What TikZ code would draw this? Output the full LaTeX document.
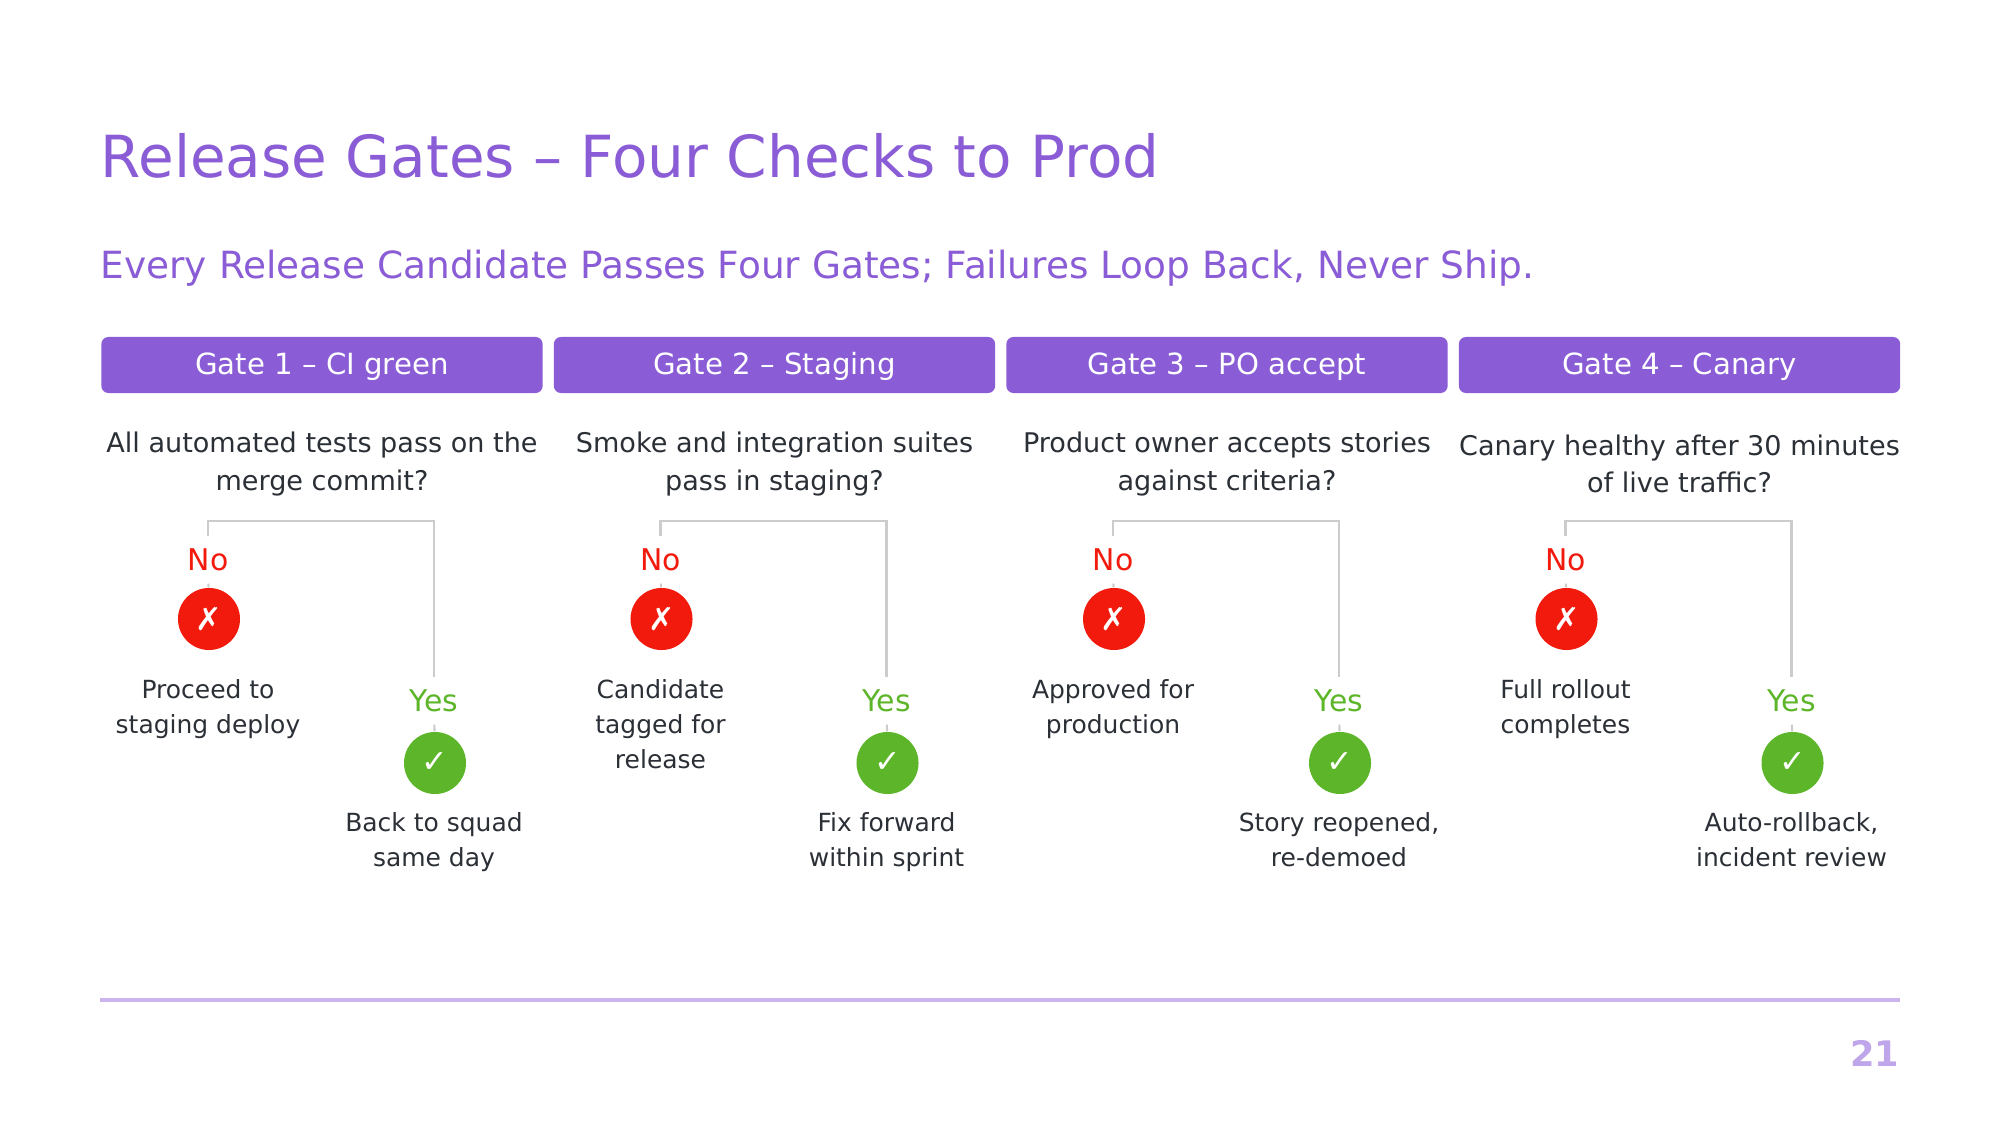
\documentclass[tikz,border=0pt]{standalone}
\usepackage{fontspec}
\setmainfont{DejaVu Sans}
\usepackage{tikz}
\usetikzlibrary{positioning}
\definecolor{gatepurple}{HTML}{8A5CD6}
\definecolor{titlepurple}{HTML}{8A5CD6}
\definecolor{nored}{HTML}{F21A0D}
\definecolor{yesgreen}{HTML}{5DB52A}
\definecolor{inkgray}{HTML}{2B2F36}
\begin{document}
\begin{tikzpicture}[x=0.01cm,y=-0.01cm,
    gate/.style={fill=gatepurple,text=white,minimum width=4.41cm,minimum height=0.56cm,rounded corners=2pt,inner sep=0pt,text depth=0.9pt,font=\fontsize{8.3}{10}\selectfont},
    question/.style={text=inkgray,align=center,font=\fontsize{7.7}{10.6}\selectfont},
    outcome/.style={text=inkgray,align=center,font=\fontsize{7.1}{9.9}\selectfont},
    branch/.style={draw=black!20,line width=0.6pt},
    dot/.style={circle,minimum size=0.62cm,inner sep=0pt,text=white,font=\fontsize{9}{9}\selectfont}]
  \useasboundingbox (0,0) rectangle (2001,1125);
  \node (title) [anchor=west,inner sep=0pt,text=titlepurple,font=\fontsize{16.5}{20}\selectfont] at (100,156) {Release Gates – Four Checks to Prod};
  \node (subtitle) [anchor=west,inner sep=0pt,text=titlepurple,font=\fontsize{10.65}{13}\selectfont] at (100,268) {Every Release Candidate Passes Four Gates; Failures Loop Back, Never Ship.};
  \foreach \i/\head/\q/\no/\yes in {
      0/{Gate 1 – CI green}/{All automated tests pass on the\\merge commit?}/{Proceed to\\staging deploy}/{Back to squad\\same day},
      1/{Gate 2 – Staging}/{Smoke and integration suites\\pass in staging?}/{Candidate\\tagged for\\release}/{Fix forward\\within sprint},
      2/{Gate 3 – PO accept}/{Product owner accepts stories\\against criteria?}/{Approved for\\production}/{Story reopened,\\re-demoed},
      3/{Gate 4 – Canary}/{Canary healthy after 30 minutes\\of live traffic?}/{Full rollout\\completes}/{Auto-rollback,\\incident review}} {
    \pgfmathsetmacro{\cx}{322+452.5*\i}
    \node (gate\i) [gate] at (\cx,365) {\head};
    \node (q\i) [question] at (\cx,464) {\q};
    \coordinate (split\i) at (\cx,521);
    \node (nolab\i) [text=nored,font=\fontsize{8.5}{10}\selectfont] at (\cx-114,560) {No};
    \node (nodot\i) [dot,fill=nored] at (\cx-113,619) {✗};
    \node (notext\i) [outcome,anchor=north] at (\cx-114,667) {\no};
    \node (yeslab\i) [text=yesgreen,font=\fontsize{8.5}{10}\selectfont] at (\cx+112,701) {Yes};
    \node (yesdot\i) [dot,fill=yesgreen] at (\cx+113,763) {✓};
    \node (yestext\i) [outcome,anchor=north] at (\cx+112,800) {\yes};
    \draw[branch] (nolab\i.north) |- (split\i) -| (yeslab\i.north);
    \draw[branch] (nolab\i) -- (nodot\i);
    \draw[branch] (yeslab\i) -- (yesdot\i);
  }
  \draw[gatepurple!45,line width=1.2pt] (100,1000) -- (1900,1000);
  \node (page) [anchor=east,inner sep=0pt,text=gatepurple!55,font=\bfseries\fontsize{10}{12}\selectfont] at (1900,1053) {21};
\end{tikzpicture}
\end{document}
